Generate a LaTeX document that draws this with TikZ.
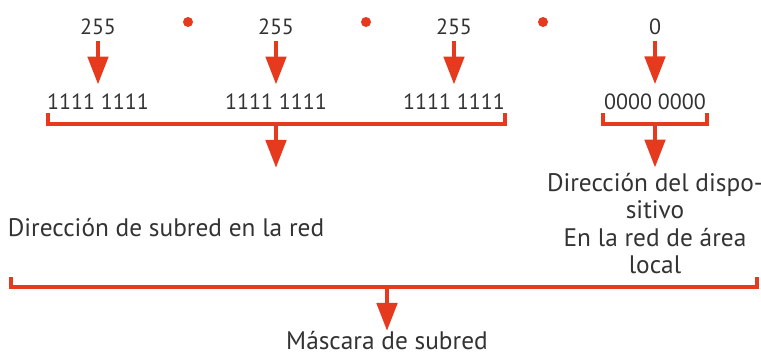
\documentclass[tikz,border=0pt]{standalone}
\usepackage{fontspec}
\setmainfont{PT Sans}
\usetikzlibrary{arrows.meta,positioning,calc}
\definecolor{rojo}{HTML}{E63A1F}
\definecolor{tinta}{HTML}{333333}
\tikzset{
  num/.style={inner sep=0pt, text=tinta, font=\fontsize{16.5}{20}\selectfont},
  bits/.style={inner sep=0pt, text=tinta, font=\fontsize{16.5}{20}\selectfont},
  etiq/.style={inner sep=0pt, text=tinta, align=center, font=\fontsize{19}{20.5}\selectfont},
  arr/.style={-{Triangle[width=15pt,length=21pt]}, line width=3.6pt, draw=rojo},
  llave/.style={line width=3.6pt, draw=rojo},
  punto/.style={circle, fill=rojo, inner sep=0pt, minimum size=7.5pt},
}

\begin{document}
\begin{tikzpicture}[x=0.75pt, y=-0.75pt]
\useasboundingbox (0,0) rectangle (761,356);
% octetos decimales
\node[num] (n1) at (98,27) {255};
\node[num] (n2) at (276,27) {255};
\node[num] (n3) at (454,27) {255};
\node[num] (n4) at (655,27) {0};
\node[punto] (p1) at (188,22) {};
\node[punto] (p2) at (366,22) {};
\node[punto] (p3) at (543,22) {};
% octetos binarios
\node[bits] (b1) at (98,102) {1111 1111};
\node[bits] (b2) at (276,102) {1111 1111};
\node[bits] (b3) at (454,102) {1111 1111};
\node[bits] (b4) at (655,102) {0000 0000};
\foreach \i in {1,...,4}
  \draw[arr, shorten <=4pt, shorten >=7pt] (n\i) -- (b\i);
% llaves
\draw[llave] (48,113) -- (48,124) -- (505,124) -- (505,113);
\draw[llave] (603,113) -- (603,124) -- (707,124) -- (707,113);
\draw[llave] (11,277) -- (11,287) -- (757,287) -- (757,277);
\coordinate (k1) at (276,124);
\coordinate (k1e) at (276,168);
\coordinate (k2) at (655,124);
\coordinate (k3) at (387,287);
\draw[arr] (k1) -- (k1e);
% textos
\node[etiq] (red) at (166,228) {Dirección de subred en la red};
\node[etiq, anchor=north] (disp) at (655,173) {Dirección del dispo-\\sitivo\\En la red de área\\local};
\node[etiq, anchor=north] (masc) at (387,331) {Máscara de subred};
\draw[arr, shorten >=4pt] (k2) -- (disp);
\draw[arr, shorten >=0pt] (k3) -- (masc);
\end{tikzpicture}
\end{document}
